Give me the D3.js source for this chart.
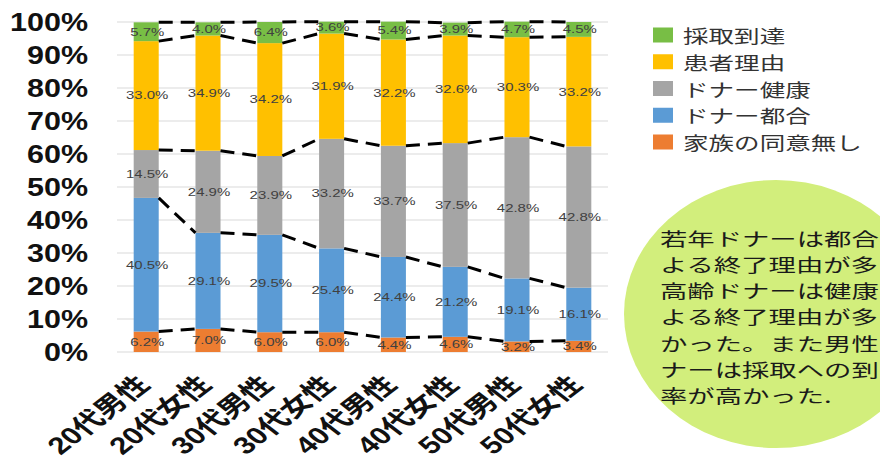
<!DOCTYPE html>
<html>
<head>
<meta charset="utf-8">
<script src="https://cdn.jsdelivr.net/npm/d3@7"></script>
<style>
  html, body { margin: 0; padding: 0; background: #fff; }
  svg { display: block; }
</style>
</head>
<body>
<svg id="chart" width="880" height="469"></svg>
<script>
// Reasons for ending donor coordination, by age group and sex (share of cases, %)
const categories = ["20代男性", "20代女性", "30代男性", "30代女性", "40代男性", "40代女性", "50代男性", "50代女性"];
const seriesNames = ["家族の同意無し", "ドナー都合", "ドナー健康", "患者理由", "採取到達"];
const familyRefused = [6.2, 7.0, 6.0, 6.0, 4.4, 4.6, 3.2, 3.4];
const donorConvenience = [40.5, 29.1, 29.5, 25.4, 24.4, 21.2, 19.1, 16.1];
const donorHealth = [14.5, 24.9, 23.9, 33.2, 33.7, 37.5, 42.8, 42.8];
const patientReason = [33.0, 34.9, 34.2, 31.9, 32.2, 32.6, 30.3, 33.2];
const reachedHarvest = [5.7, 4.0, 6.4, 3.6, 5.4, 3.9, 4.7, 4.5];
const yTicks = [0, 10, 20, 30, 40, 50, 60, 70, 80, 90, 100];
const noteLines = ["若年ドナーは都合", "よる終了理由が多", "高齢ドナーは健康", "よる終了理由が多", "かった。また男性", "ナーは採取への到", "率が高かった."];

const seriesValues = [familyRefused, donorConvenience, donorHealth, patientReason, reachedHarvest];
const colors = ["#ED7D31", "#5B9BD5", "#A5A5A5", "#FFC000", "#78BE45"];

const svg = d3.select("#chart");
const stretch = 1.3;

const x = d3.scaleBand().domain(categories).range([117, 608]).paddingInner(0.595).paddingOuter(0.27);
const y = d3.scaleLinear().domain([0, 100]).range([352, 22]);

// stacked table built from the series arrays
const table = categories.map((c, i) => {
  const row = { cat: c };
  seriesNames.forEach((s, k) => { row[s] = seriesValues[k][i]; });
  return row;
});
const stacked = d3.stack().keys(seriesNames)(table);

// gridlines
svg.append("g").selectAll("line").data(yTicks).join("line")
  .attr("x1", 117).attr("x2", 608)
  .attr("y1", d => y(d)).attr("y2", d => y(d))
  .attr("stroke", "#d9d9d9").attr("stroke-width", 1);

// y tick labels
svg.append("g").selectAll("text").data(yTicks).join("text")
  .attr("transform", d => `translate(88,${y(d)}) scale(1.22,1)`)
  .attr("text-anchor", "end").attr("dominant-baseline", "central")
  .attr("font-family", "'Liberation Sans', Arial, sans-serif")
  .attr("font-weight", "bold").attr("font-size", 25).attr("fill", "#111")
  .text(d => d + "%");

// bars
const layers = svg.append("g").selectAll("g").data(stacked).join("g")
  .attr("fill", (d, k) => colors[k]);
layers.selectAll("rect").data(d => d).join("rect")
  .attr("x", d => x(d.data.cat))
  .attr("width", x.bandwidth())
  .attr("y", d => y(d[1]))
  .attr("height", d => y(d[0]) - y(d[1]));

// series lines between neighbouring bars
const links = [];
stacked.forEach(layer => {
  for (let i = 0; i < layer.length - 1; i++) {
    links.push({ a: layer[i], b: layer[i + 1] });
  }
});
svg.append("g").selectAll("line").data(links).join("line")
  .attr("x1", d => x(d.a.data.cat) + x.bandwidth())
  .attr("y1", d => y(d.a[1]))
  .attr("x2", d => x(d.b.data.cat))
  .attr("y2", d => y(d.b[1]))
  .attr("stroke", "#000").attr("stroke-width", 3)
  .attr("stroke-dasharray", "14,8");

// value labels
const labelData = [];
stacked.forEach((layer, k) => layer.forEach(d => labelData.push({ d, v: seriesValues[k][categories.indexOf(d.data.cat)] })));
svg.append("g").selectAll("text").data(labelData).join("text")
  .attr("transform", o => `translate(${x(o.d.data.cat) + x.bandwidth() / 2 + 1},${y((o.d[0] + o.d[1]) / 2)}) scale(${stretch},1)`)
  .attr("text-anchor", "middle").attr("dominant-baseline", "central")
  .attr("font-family", "'Liberation Sans', Arial, sans-serif")
  .attr("font-size", 11.5).attr("fill", "#404040")
  .text(o => o.v.toFixed(1) + "%");

// category labels
svg.append("g").selectAll("text").data(categories).join("text")
  .attr("transform", c => `translate(${x(c) + x.bandwidth() / 2 + 5},386) scale(${stretch},1) rotate(-45)`)
  .attr("text-anchor", "end")
  .attr("font-family", "'Liberation Sans', 'Noto Sans CJK JP', sans-serif")
  .attr("font-weight", "bold").attr("font-size", 24).attr("fill", "#111")
  .text(c => c);

// legend, top series first
const legendOrder = seriesNames.map((s, k) => ({ s, k })).reverse();
const legend = svg.append("g").selectAll("g").data(legendOrder).join("g")
  .attr("transform", (d, i) => `translate(653,${35 + i * 26.75})`);
legend.append("rect").attr("x", 0).attr("y", -7.5).attr("width", 20).attr("height", 15)
  .attr("fill", d => colors[d.k]);
legend.append("text")
  .attr("transform", `translate(30,0) scale(1.42,1)`)
  .attr("dominant-baseline", "central")
  .attr("font-family", "'Noto Sans CJK JP', sans-serif")
  .attr("font-size", 18).attr("fill", "#333")
  .text(d => d.s);

// note bubble
svg.append("ellipse").attr("cx", 776).attr("cy", 314).attr("rx", 152).attr("ry", 134)
  .attr("fill", "#d2ee7c");
svg.append("g").selectAll("text").data(noteLines).join("text")
  .attr("transform", (d, i) => `translate(660,${238 + i * 26.2}) scale(1.52,1)`)
  .attr("dominant-baseline", "central")
  .attr("font-family", "'Noto Sans CJK JP', sans-serif")
  .attr("font-size", 18).attr("fill", "#1a1a1a")
  .text(d => d);
</script>
</body>
</html>
